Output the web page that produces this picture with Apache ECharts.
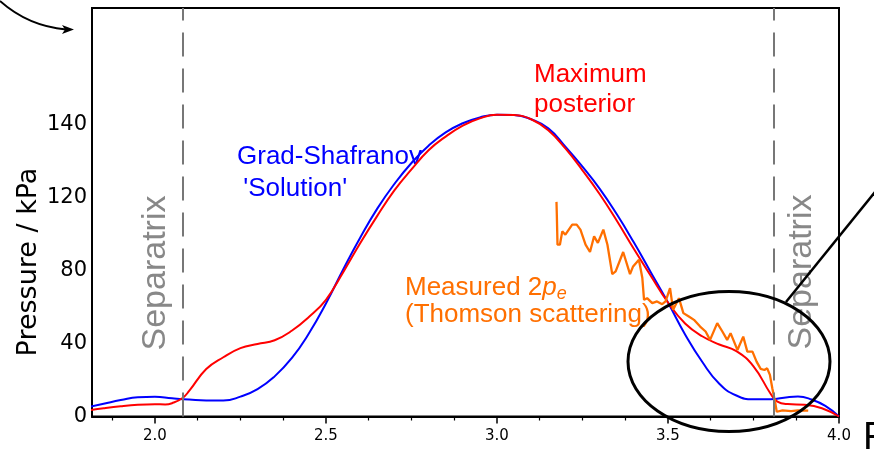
<!DOCTYPE html>
<html>
<head>
<meta charset="utf-8">
<script src="https://cdn.jsdelivr.net/npm/echarts@6/dist/echarts.min.js"></script>
<style>
  html, body { margin: 0; padding: 0; background: #fff; }
  #chart { width: 874px; height: 457px; }
</style>
</head>
<body>
<div id="chart"></div>
<script>
// Major radius R (m) and pressure (axis units) for each profile
const gsR = [1.80, 1.85, 1.90, 1.95, 2.00, 2.05, 2.10, 2.15, 2.20, 2.25, 2.30, 2.35, 2.40, 2.45, 2.50, 2.55, 2.60, 2.65, 2.70, 2.75, 2.80, 2.85, 2.90, 2.95, 3.00, 3.05, 3.10, 3.15, 3.20, 3.25, 3.30, 3.35, 3.40, 3.45, 3.50, 3.55, 3.60, 3.65, 3.70, 3.75, 3.80, 3.85, 3.88, 3.92, 3.96, 4.00];
const gsP = [5.0, 7.0, 9.0, 10.6, 10.8, 10.0, 9.3, 8.8, 8.8, 10.9, 15.0, 22.0, 32.0, 45.5, 62.0, 80.5, 98.0, 114.0, 127.5, 139.0, 148.5, 155.8, 160.8, 164.0, 165.5, 165.3, 163.0, 158.0, 148.0, 137.0, 125.0, 111.0, 95.5, 79.0, 62.5, 45.0, 30.0, 18.0, 11.5, 9.4, 9.5, 10.6, 10.9, 9.3, 5.8, 0.0];

const mpR = [1.80, 1.85, 1.90, 1.95, 2.00, 2.03, 2.05, 2.08, 2.10, 2.15, 2.20, 2.25, 2.30, 2.35, 2.40, 2.45, 2.50, 2.55, 2.60, 2.65, 2.70, 2.75, 2.80, 2.85, 2.90, 2.95, 3.00, 3.05, 3.10, 3.15, 3.20, 3.25, 3.30, 3.35, 3.40, 3.45, 3.50, 3.55, 3.60, 3.65, 3.70, 3.75, 3.80, 3.82, 3.85, 3.90, 3.95, 4.00];
const mpP = [3.2, 4.5, 5.6, 6.4, 6.7, 6.6, 7.3, 10.0, 14.0, 26.0, 32.5, 37.5, 39.8, 41.8, 47.0, 54.5, 64.0, 79.0, 95.0, 110.0, 124.0, 135.5, 146.0, 153.5, 159.5, 163.5, 165.5, 165.3, 163.0, 157.0, 147.0, 135.0, 122.0, 107.5, 92.0, 77.0, 62.5, 51.0, 44.0, 39.5, 35.8, 27.5, 12.5, 8.2, 6.8, 6.4, 4.5, 0.0];

const tsR = [3.174, 3.175, 3.177, 3.184, 3.191, 3.20, 3.21, 3.22, 3.233, 3.244, 3.259, 3.272, 3.284, 3.295, 3.311, 3.323, 3.337, 3.347, 3.369, 3.389, 3.398, 3.415, 3.425, 3.43, 3.439, 3.454, 3.468, 3.483, 3.493, 3.506, 3.515, 3.532, 3.545, 3.561, 3.576, 3.594, 3.61, 3.623, 3.644, 3.659, 3.673, 3.683, 3.703, 3.72, 3.732, 3.747, 3.759, 3.771, 3.782, 3.79, 3.798, 3.805, 3.813, 3.818, 3.835, 3.86, 3.88, 3.91];
const tsP = [117.7, 110.7, 94.2, 94.2, 101.5, 99.7, 102.5, 105.2, 105.2, 102.5, 94.2, 90.2, 98.8, 95.2, 102.5, 94.2, 78.1, 79.6, 90.2, 78.1, 82.3, 86.0, 75.9, 64.0, 64.9, 62.2, 63.1, 61.6, 63.1, 70.4, 58.5, 64.9, 56.7, 54.8, 53.0, 49.3, 46.6, 42.0, 51.2, 46.6, 42.0, 45.7, 36.5, 43.8, 35.6, 35.6, 30.1, 26.1, 25.5, 26.4, 22.8, 15.5, 8.1, 2.6, 3.4, 3.0, 3.4, 3.2];

// Separatrix positions (R, m)
const separatrixR = [2.082, 3.815];

// Axis ticks and labels
const xMajorTicks = [2.0, 2.5, 3.0, 3.5, 4.0];
const xMinorTicks = [1.875, 2.125, 2.25, 2.375, 2.625, 2.75, 2.875, 3.125, 3.25, 3.375, 3.625, 3.75, 3.875];
const yTickValues = [0, 40, 80, 120, 160];
const yTickLabels = ['0', '40', '80', '120', '140'];

const pairs = (xs, ys) => xs.map((x, i) => [x, ys[i]]);

const chart = echarts.init(document.getElementById('chart'), null, { renderer: 'canvas' });

const annoFont = 'Liberation Sans, Arial, sans-serif';
const axisFont = 'DejaVu Sans, sans-serif';

const option = {
  backgroundColor: '#fff',
  animation: false,
  grid: {
    left: 92, right: 35, top: 8, bottom: 40.5,
    show: true, borderColor: '#000', borderWidth: 2, backgroundColor: 'transparent'
  },
  xAxis: [
    {
      type: 'value', min: 1.816, max: 4.0, position: 'bottom',
      axisLine: { show: true, lineStyle: { color: '#000', width: 2 } },
      axisTick: { show: true, inside: false, length: 7, customValues: xMajorTicks, lineStyle: { color: '#000', width: 1.5 } },
      axisLabel: {
        show: true, customValues: xMajorTicks, margin: 12,
        formatter: v => v.toFixed(1),
        fontFamily: axisFont, fontSize: 15, color: '#000'
      },
      splitLine: { show: false }
    },
    {
      type: 'value', min: 1.816, max: 4.0, position: 'bottom',
      axisLine: { show: false },
      axisTick: { show: true, inside: false, length: 4, customValues: xMinorTicks, lineStyle: { color: '#000', width: 1.2 } },
      axisLabel: { show: false },
      splitLine: { show: false }
    }
  ],
  yAxis: {
    type: 'value', min: 0, max: 224,
    axisLine: { show: true, lineStyle: { color: '#000', width: 2 } },
    axisTick: { show: false },
    axisLabel: {
      customValues: yTickValues, margin: 5,
      formatter: v => {
        const i = yTickValues.indexOf(v);
        return i >= 0 ? yTickLabels[i] : '';
      },
      fontFamily: axisFont, fontSize: 21, color: '#000'
    },
    splitLine: { show: false }
  },
  series: [
    {
      name: 'Grad-Shafranov', type: 'line', xAxisIndex: 0,
      data: pairs(gsR, gsP), showSymbol: false, smooth: 0.5, clip: false,
      lineStyle: { color: '#0000ff', width: 2 }, z: 2,
      markLine: {
        silent: true, symbol: ['none', 'none'], label: { show: false },
        lineStyle: { color: '#777', width: 2, type: [24, 12] },
        data: separatrixR.map(r => ({ xAxis: r }))
      }
    },
    {
      name: 'Maximum posterior', type: 'line', xAxisIndex: 0,
      data: pairs(mpR, mpP), showSymbol: false, smooth: 0.45, clip: false,
      lineStyle: { color: '#ff0000', width: 2 }, z: 3
    },
    {
      name: 'Measured 2pe', type: 'line', xAxisIndex: 0,
      data: pairs(tsR, tsP), showSymbol: false, smooth: false, clip: false,
      lineStyle: { color: '#ff6f00', width: 2.3 }, z: 4
    }
  ],
  graphic: [
    // axis title
    { type: 'text', x: 29, y: 262, rotation: Math.PI / 2,
      style: { text: 'Pressure / kPa', font: '27px ' + axisFont, fill: '#000', align: 'center', verticalAlign: 'middle' } },
    // separatrix labels
    { type: 'text', x: 156, y: 273, rotation: Math.PI / 2,
      style: { text: 'Separatrix', font: '34px ' + annoFont, fill: '#888', align: 'center', verticalAlign: 'middle' } },
    { type: 'text', x: 802, y: 272, rotation: Math.PI / 2,
      style: { text: 'Separatrix', font: '34px ' + annoFont, fill: '#888', align: 'center', verticalAlign: 'middle' } },
    // curve labels
    { type: 'text', x: 237, y: 144, style: { text: 'Grad-Shafranov', font: '26px ' + annoFont, fill: '#0000ff', verticalAlign: 'top' } },
    { type: 'text', x: 236, y: 176, style: { text: " 'Solution'", font: '26px ' + annoFont, fill: '#0000ff', verticalAlign: 'top' } },
    { type: 'text', x: 534, y: 62, style: { text: 'Maximum', font: '26px ' + annoFont, fill: '#ff0000', verticalAlign: 'top' } },
    { type: 'text', x: 534, y: 92, style: { text: 'posterior', font: '26px ' + annoFont, fill: '#ff0000', verticalAlign: 'top' } },
    { type: 'text', x: 405, y: 273,
      style: {
        text: '{a|Measured 2}{p|p}{e|e}', verticalAlign: 'top', fill: '#ff6f00',
        rich: {
          a: { font: '26px ' + annoFont, fill: '#ff6f00', lineHeight: 30 },
          p: { font: 'italic 26px ' + annoFont, fill: '#ff6f00', lineHeight: 30 },
          e: { font: 'italic 18px ' + annoFont, fill: '#ff6f00', lineHeight: 30, verticalAlign: 'bottom' }
        }
      } },
    { type: 'text', x: 405, y: 302, style: { text: '(Thomson scattering)', font: '26px ' + annoFont, fill: '#ff6f00', verticalAlign: 'top' } },
    // zoom-in ellipse and leader line
    { type: 'ellipse', shape: { cx: 729, cy: 361.5, rx: 101, ry: 70 }, style: { fill: 'none', stroke: '#000', lineWidth: 3 }, z: 100 },
    { type: 'line', shape: { x1: 786, y1: 302, x2: 884, y2: 181 }, style: { stroke: '#000', lineWidth: 2.5 }, z: 100 },
    // pointer arrow at top left
    { type: 'bezierCurve', shape: { x1: 0, y1: 1, cpx1: 28, cpy1: 26, x2: 66, y2: 29.5 }, style: { fill: 'none', stroke: '#000', lineWidth: 1.8 }, z: 100 },
    { type: 'polygon', shape: { points: [[74, 29.5], [62, 25], [65, 29.5], [62, 34]] }, style: { fill: '#000' }, z: 100 },
    // radial axis title (cut at the right edge)
    { type: 'text', x: 863, y: 420, style: { text: 'R', font: '38px ' + annoFont, fill: '#000', verticalAlign: 'top' } }
  ]
};

chart.setOption(option);
</script>
</body>
</html>
